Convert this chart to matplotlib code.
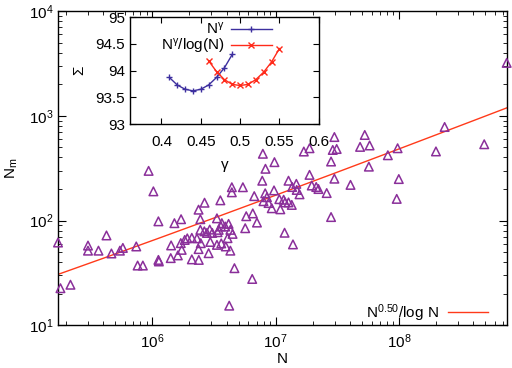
import numpy as np
import matplotlib
matplotlib.use("Agg")
import matplotlib.pyplot as plt

plt.rcParams['font.family'] = ['Liberation Sans', 'DejaVu Sans']
plt.rcParams['mathtext.fontset'] = 'custom'
plt.rcParams['mathtext.rm'] = 'Liberation Sans'
plt.rcParams['mathtext.it'] = 'Liberation Sans'
plt.rcParams['mathtext.bf'] = 'Liberation Sans:bold'
plt.rcParams['font.size'] = 10

# --- main scatter data (N, N_m) ---
N_vals = [1.72e5, 1.80e5, 2.17e5, 3.01e5, 3.01e5, 3.66e5, 4.25e5, 4.66e5, 5.46e5, 5.77e5,
          7.41e5, 7.60e5, 8.38e5, 9.33e5, 1.02e6, 1.12e6, 1.12e6, 1.13e6, 1.42e6, 1.41e6,
          1.51e6, 1.61e6, 1.71e6, 1.70e6, 1.73e6, 1.83e6, 1.92e6, 2.09e6, 2.09e6, 2.30e6,
          2.37e6, 2.38e6, 2.37e6, 2.45e6, 2.47e6, 2.45e6, 2.65e6, 2.64e6, 2.77e6, 2.86e6,
          2.92e6, 2.95e6, 3.06e6, 3.34e6, 3.34e6, 3.38e6, 3.45e6, 3.56e6, 3.62e6, 3.60e6,
          3.66e6, 3.94e6, 3.90e6, 4.07e6, 4.15e6, 4.20e6, 4.29e6, 4.41e6, 4.41e6, 4.47e6,
          4.29e6, 4.63e6, 5.42e6, 5.77e6, 5.66e6, 6.45e6, 6.52e6, 6.70e6, 7.05e6, 7.78e6,
          7.87e6, 8.22e6, 8.49e6, 7.96e6, 8.26e6, 8.75e6, 9.29e6, 9.69e6, 9.77e6, 1.07e7,
          1.09e7, 1.16e7, 1.19e7, 1.18e7, 1.27e7, 1.27e7, 1.35e7, 1.38e7, 1.36e7, 1.47e7,
          1.48e7, 1.56e7, 1.69e7, 1.88e7, 1.88e7, 1.96e7, 2.13e7, 2.22e7, 2.59e7, 2.81e7,
          2.81e7, 2.90e7, 3.12e7, 2.99e7, 2.99e7, 4.04e7, 4.83e7, 5.27e7, 5.77e7, 5.69e7,
          8.11e7, 9.73e7, 9.95e7, 9.57e7, 1.99e8, 2.34e8, 4.90e8, 7.45e8]
Nm_vals = [61.7, 22.6, 24.4, 57.7, 51.6, 51.6, 72.1, 48.5, 51.6, 54.8,
           56.6, 37.2, 37.2, 298, 190, 98.3, 42.1, 40.7, 57.9, 43.8,
           94.4, 46.5, 103, 60.9, 52.5, 65.3, 67.6, 68.4, 42.6, 67.6,
           53.4, 42.1, 127, 103, 60.8, 81.5, 148, 78.9, 76.2, 48.8,
           82.0, 62.5, 76.2, 105, 58.6, 77.4, 81.5, 156, 60.5, 87.7,
           94.4, 56.6, 87.7, 67.9, 92.9, 15.4, 51.6, 208, 186, 74.6,
           81.5, 35.1, 208, 110, 84.5, 27.7, 117, 171, 95.7, 240,
           434, 182, 167, 153, 312, 147, 131, 194, 361, 160,
           128, 158, 149, 76.5, 240, 149, 141, 59.2, 209, 224,
           196, 178, 456, 490, 273, 216, 209, 200, 183, 366,
           108, 472, 482, 627, 251, 219, 505, 656, 521, 327,
           420, 490, 249, 161, 457, 782, 535, 3200]

# fit N^0.50 / log N
fit_exp = 0.50
fit_coef = 0.89

# --- inset data ---
gamma_a = [0.41, 0.42, 0.43, 0.44, 0.45, 0.46, 0.47, 0.48, 0.49]
sigma_a = [93.87, 93.73, 93.65, 93.62, 93.65, 93.73, 93.87, 94.05, 94.30]
gamma_b = [0.46, 0.47, 0.48, 0.49, 0.50, 0.51, 0.52, 0.53, 0.54, 0.55]
sigma_b = [94.18, 93.98, 93.83, 93.74, 93.72, 93.74, 93.83, 93.97, 94.16, 94.41]

purple = '#8a2f9a'
red = '#ff3a1a'
blue = '#3d2f9f'

fig = plt.figure(figsize=(5.12, 3.68), dpi=100)
ax = fig.add_axes([0.1133, 0.1160, 0.8763, 0.8540])
ax.set_xscale('log')
ax.set_yscale('log')
ax.set_xlim(1.72e5, 7.45e8)
ax.set_ylim(10, 1e4)

ax.scatter(N_vals, Nm_vals, marker='^', s=38, facecolors='none', edgecolors=purple,
           linewidths=1.1, clip_on=False, zorder=3)

xx = np.logspace(np.log10(1.72e5), np.log10(7.45e8), 200)
ax.plot(xx, fit_coef * xx**fit_exp / np.log(xx), color=red, lw=1.0,
        label=r'N$^{0.50}$/log N')

ax.set_xlabel('N', fontsize=11, labelpad=1)
ax.set_ylabel(r'N$_{\rm m}$', fontsize=11, labelpad=6)
ax.tick_params(which='both', direction='in', top=True, right=True, labelsize=11)
ax.tick_params(which='major', length=6)
ax.tick_params(which='minor', length=3)
ax.tick_params(axis='x', pad=5)
for s in ax.spines.values():
    s.set_linewidth(1.0)

ax.legend(loc='lower right', bbox_to_anchor=(0.965, -0.005), frameon=False,
          markerfirst=False, handlelength=2.6, fontsize=11, borderaxespad=0,
          borderpad=0.2, handletextpad=0.6)

# inset
ins = fig.add_axes([0.254, 0.663, 0.3685, 0.2908])
ins.plot(gamma_a, sigma_a, color=blue, lw=1.0, marker='+', ms=5, mew=1.0, label=r'N$^{\gamma}$')
ins.plot(gamma_b, sigma_b, color='#ff2a1a', lw=1.0, marker='x', ms=4, mew=1.0,
         label=r'N$^{\gamma}$/log(N)')
ins.set_xlim(0.36, 0.60)
ins.set_ylim(93, 95)
ins.set_xticks([0.4, 0.45, 0.5, 0.55, 0.6])
ins.set_xticklabels(['0.4', '0.45', '0.5', '0.55', '0.6'])
ins.set_yticks([93, 93.5, 94, 94.5, 95])
ins.set_yticklabels(['93', '93.5', '94', '94.5', '95'])
ins.tick_params(which='both', direction='in', top=True, right=True, labelsize=11, length=4)
ins.tick_params(axis='x', pad=8)
ins.set_xlabel(r'$\gamma$', fontsize=11, labelpad=7)
ins.set_ylabel(r'$\Sigma$', fontsize=11, labelpad=6)
for s in ins.spines.values():
    s.set_linewidth(1.0)
ins.legend(loc='upper right', bbox_to_anchor=(0.765, 0.985), frameon=False,
           markerfirst=False, handlelength=2.7, fontsize=11, labelspacing=0.0,
           borderaxespad=0, borderpad=0.15, handletextpad=0.4)

fig.savefig('out.png', dpi=100)
